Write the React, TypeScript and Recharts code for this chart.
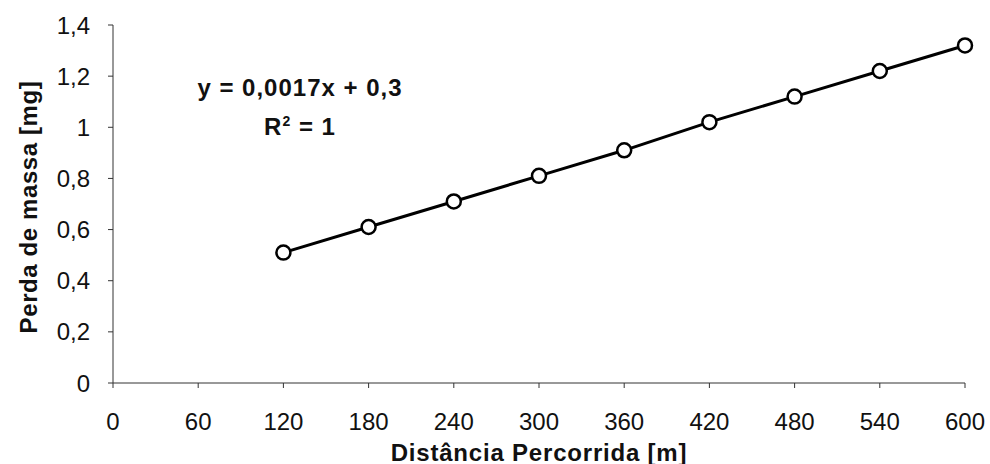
import { LineChart, Line, XAxis, YAxis, Label } from 'recharts';

// leitura do gráfico: perda de massa x distância percorrida
const distancia = [120, 180, 240, 300, 360, 420, 480, 540, 600];
const perdaMassa = [0.51, 0.61, 0.71, 0.81, 0.91, 1.02, 1.12, 1.22, 1.32];
const xTicks = [0, 60, 120, 180, 240, 300, 360, 420, 480, 540, 600];
const yTicks = [0, 0.2, 0.4, 0.6, 0.8, 1, 1.2, 1.4];

const data = distancia.map((d, i) => ({ x: d, y: perdaMassa[i] }));

const FONT = "'Liberation Sans', Arial, sans-serif";
const virgula = (v: number) => String(v).replace('.', ',');

const XTick = ({ x, y, payload }: any) => (
  <text x={x} y={y} dy="0.71em" textAnchor="middle" fontFamily={FONT} fontSize={24} fill="#111">
    {payload.value}
  </text>
);

const YTick = ({ x, y, payload }: any) => (
  <text x={x} y={y} dy="0.355em" textAnchor="end" fontFamily={FONT} fontSize={24} fill="#111">
    {virgula(payload.value)}
  </text>
);

const App = () => {
  return (
    <div style={{ position: 'absolute', left: 0, top: 0, width: 990, height: 464, background: '#fff', fontFamily: FONT }}>
      <LineChart width={990} height={464} data={data} margin={{ top: 25, right: 25, bottom: 21, left: 0 }}>
        <XAxis
          dataKey="x"
          type="number"
          domain={[0, 600]}
          ticks={xTicks}
          stroke="#333"
          tickSize={5}
          tickMargin={25}
          height={60}
          tick={<XTick />}
        >
          <Label
            content={({ viewBox }: any) => (
              <text
                x={viewBox.x + viewBox.width / 2}
                y={452}
                textAnchor="middle"
                dominantBaseline="central"
                fontFamily={FONT}
                fontWeight="bold"
                fontSize={24}
                letterSpacing={0.8}
                fill="#111"
              >
                Distância Percorrida [m]
              </text>
            )}
          />
        </XAxis>
        <YAxis
          dataKey="y"
          type="number"
          domain={[0, 1.4]}
          ticks={yTicks}
          stroke="#333"
          tickSize={5}
          tickMargin={18}
          width={113}
          tick={<YTick />}
        >
          <Label
            content={({ viewBox }: any) => (
              <text
                x={28}
                y={viewBox.y + viewBox.height / 2 + 3}
                textAnchor="middle"
                dominantBaseline="central"
                transform={`rotate(-90 28 ${viewBox.y + viewBox.height / 2 + 3})`}
                fontFamily={FONT}
                fontWeight="bold"
                fontSize={24}
                letterSpacing={0.6}
                fill="#111"
              >
                Perda de massa [mg]
              </text>
            )}
          />
        </YAxis>
        <Line
          dataKey="y"
          stroke="#000"
          strokeWidth={3}
          dot={{ r: 7, stroke: '#000', strokeWidth: 2.5, fill: '#fff' }}
          isAnimationActive={false}
        />
      </LineChart>
      <div
        style={{
          position: 'absolute',
          left: 180,
          top: 68,
          width: 240,
          textAlign: 'center',
          fontFamily: FONT,
          fontWeight: 'bold',
          fontSize: 24,
          letterSpacing: 1,
          lineHeight: '39px',
          color: '#111',
        }}
      >
        <div>y = 0,0017x + 0,3</div>
        <div>
          R<sup style={{ fontSize: 14, lineHeight: 0 }}>2</sup> = 1
        </div>
      </div>
    </div>
  );
};

export default App;
